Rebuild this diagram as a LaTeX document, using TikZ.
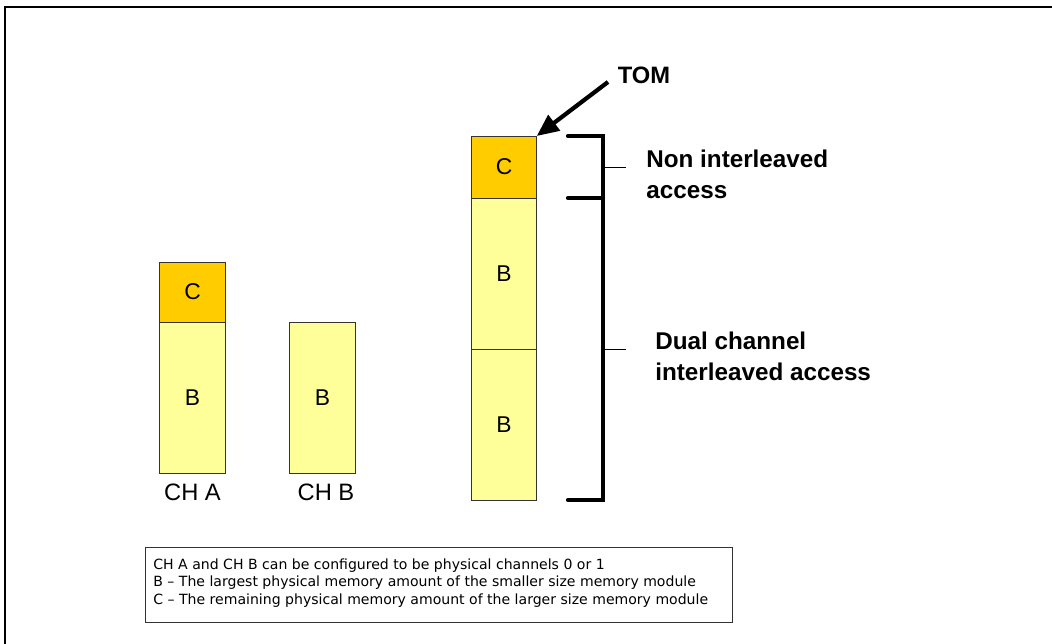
\documentclass[tikz,border=0pt]{standalone}
\usepackage{fontspec}
\setmainfont{Liberation Sans}
\newfontfamily\legendfont{DejaVu Sans}
\usetikzlibrary{arrows.meta}
\definecolor{memgold}{HTML}{FFCC00}
\definecolor{memlight}{HTML}{FFFF99}
\tikzset{
  membox/.style={draw=black!80,line width=0.5pt,inner sep=0pt,outer sep=0pt,
    minimum width=1.31cm,font=\fontsize{13}{15}\selectfont},
  memC/.style={membox,fill=memgold},
  memB/.style={membox,fill=memlight},
  chlabel/.style={font=\fontsize{13.5}{16}\selectfont},
  brace/.style={line width=2.4pt,line cap=round},
  tick/.style={line width=0.5pt},
  boldlabel/.style={align=left,anchor=west,inner sep=0pt,font=\fontsize{13.8}{17.5}\bfseries\selectfont}
}
\begin{document}
\begin{tikzpicture}[x=0.02cm,y=-0.02cm]
				\useasboundingbox (0,0) rectangle (1052,644);
				\draw [line width=1.3pt] (5,644) -- (5,7) -- (1052,7);
				% channel A
				\node [memC,minimum height=1.2cm] (aC) at (192.5,292) {C};
				\node [memB,minimum height=3.02cm] (aB) at (192.5,397.5) {B};
				\node [chlabel] (chA) at (192.5,492) {CH A};
				% channel B
				\node [memB,minimum height=3.02cm] (bB) at (322.5,397.5) {B};
				\node [chlabel] (chB) at (326,492) {CH B};
				% interleaved
				\node [memC,minimum height=1.24cm] (rC) at (504,167) {C};
				\node [memB,minimum height=3.02cm] (rB1) at (504,273.5) {B};
				\node [memB,minimum height=3.02cm] (rB2) at (504,424.5) {B};
				\coordinate (T1) at (568,136);
				\coordinate (T2) at (603,136);
				\coordinate (M1) at (568,198);
				\coordinate (M2) at (603,198);
				\coordinate (E1) at (568,500);
				\coordinate (E2) at (603,500);
				\draw [brace] (T1) -- (T2) -- (E2) -- (E1);
				\draw [brace] (M1) -- (M2);
				\coordinate (K1) at (603,167);
				\coordinate (K2) at (626,167);
				\coordinate (L1) at (603,349);
				\coordinate (L2) at (626,349);
				\draw [tick] (K1) -- (K2);
				\draw [tick] (L1) -- (L2);
				\node [boldlabel] (nonint) at (646,174) {Non interleaved\\access};
				\node [boldlabel] (dualint) at (655,356) {Dual channel\\interleaved access};
				\node [font=\fontsize{13.5}{16}\bfseries\selectfont] (tom) at (644,75) {TOM};
				\coordinate (A0) at (608,82);
				\draw [line width=2.4pt,-{Triangle[length=0.44cm,width=0.38cm]}] (A0) -- (rC.north east);
				% legend
				\node [draw=black!80,line width=0.6pt,anchor=north west,inner sep=0pt,
				  minimum width=11.74cm,minimum height=1.5cm] (legend) at (145,547) {};
				\node [anchor=west,align=left,inner sep=0pt,
				  font=\legendfont\fontsize{8}{10}\selectfont] (legtext) at (153,583)
				  {CH A and CH B can be configured to be physical channels 0 or 1\\
				   B – The largest physical memory amount of the smaller size memory module\\
				   C – The remaining physical memory amount of the larger size memory module};
			\end{tikzpicture}
\end{document}
